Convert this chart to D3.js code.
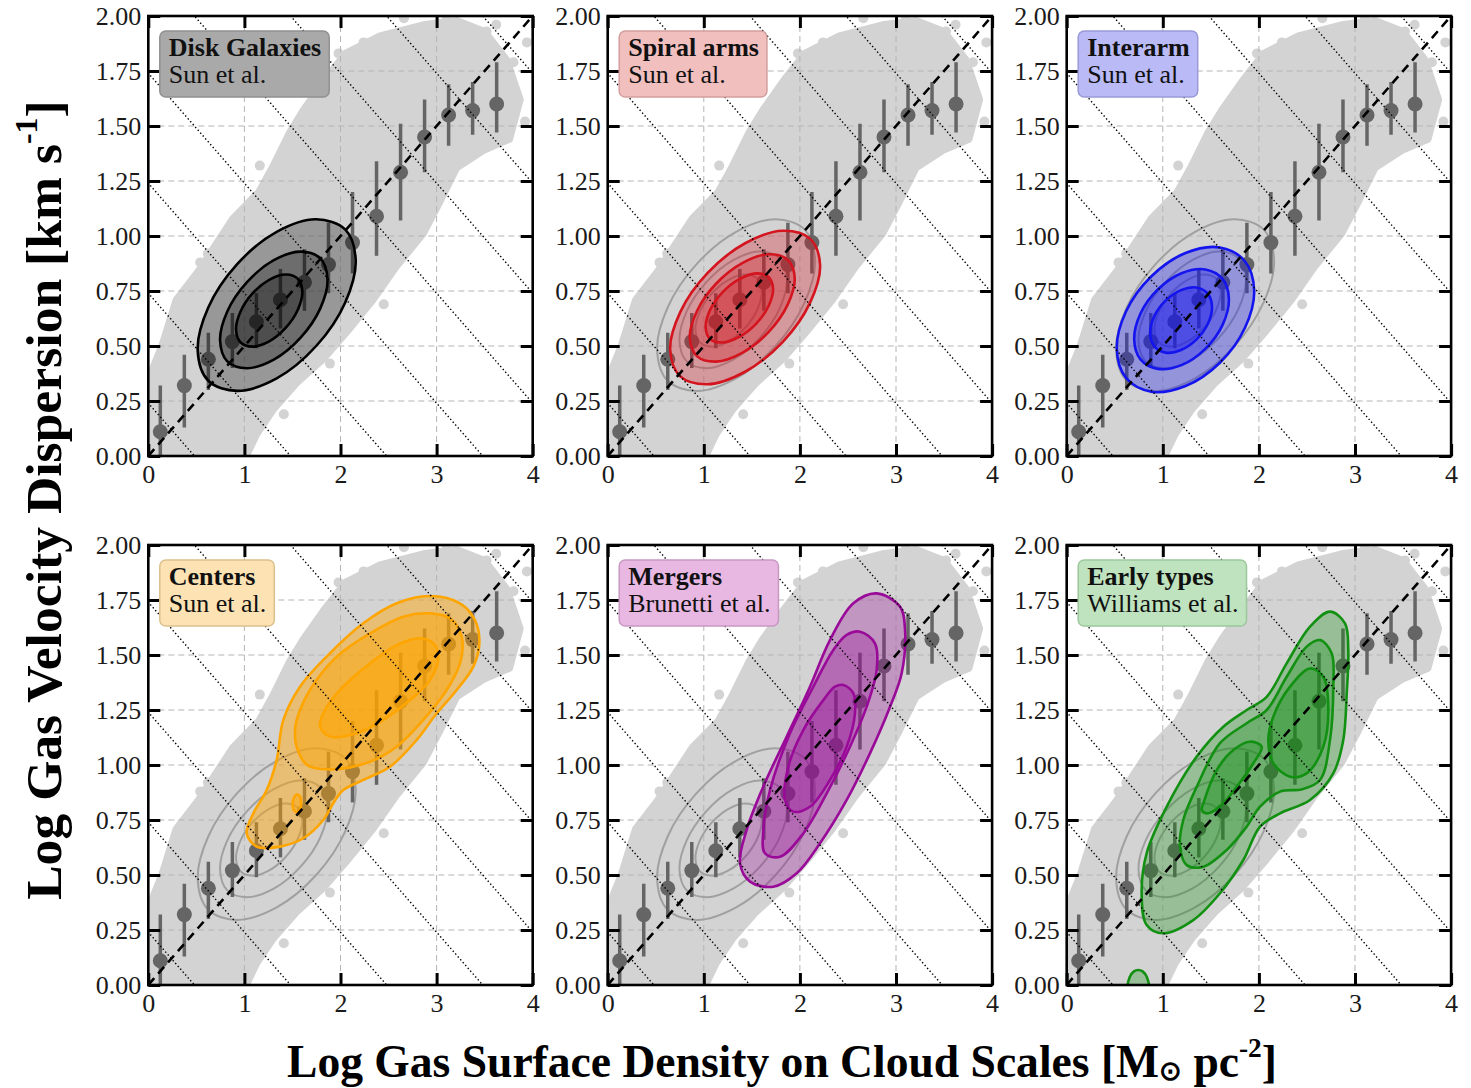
<!DOCTYPE html>
<html>
<head>
<meta charset="utf-8">
<script src="https://cdn.jsdelivr.net/npm/d3@7"></script>
<style>
  body { margin: 0; background: #fff; }
  svg { display: block; }
  text { font-family: "Liberation Serif", "Times New Roman", serif; }
</style>
</head>
<body>
<script>
// binned medians of the disk-galaxy sample, repeated in every panel
var binX   = [0.125, 0.375, 0.625, 0.875, 1.125, 1.375, 1.625, 1.875, 2.125, 2.375, 2.625, 2.875, 3.125, 3.375, 3.625];
var binMed = [0.11, 0.32, 0.44, 0.52, 0.61, 0.71, 0.79, 0.87, 0.97, 1.09, 1.29, 1.45, 1.55, 1.57, 1.60];
var binLo  = [0.00, 0.13, 0.30, 0.40, 0.49, 0.58, 0.66, 0.74, 0.83, 0.91, 1.07, 1.29, 1.41, 1.46, 1.47];
var binHi  = [0.32, 0.46, 0.56, 0.65, 0.74, 0.85, 0.94, 1.06, 1.20, 1.34, 1.51, 1.62, 1.69, 1.70, 1.79];

var xTicks = [0, 1, 2, 3, 4];
var xTickLabels = ["0", "1", "2", "3", "4"];
var yTicks = [0, 0.25, 0.5, 0.75, 1, 1.25, 1.5, 1.75, 2];
var yTickLabels = ["0.00", "0.25", "0.50", "0.75", "1.00", "1.25", "1.50", "1.75", "2.00"];

// constant-pressure lines (slope -1/2), y-intercepts
var pressureIntercepts = [0.24, 0.74, 1.24, 1.74, 2.24, 2.74, 3.24, 3.74];

// outline of the grey point cloud and a few loose points
var cloudHull = [[0,0],[0,0.35],[0.14,0.50],[0.29,0.71],[0.52,0.84],[0.88,1.08],[1.15,1.20],[1.30,1.32],[1.47,1.47],
  [1.61,1.57],[1.82,1.70],[2.05,1.83],[2.41,1.91],[2.86,1.96],[3.21,1.98],[3.50,1.93],[3.73,1.80],[3.87,1.62],
  [3.76,1.44],[3.49,1.39],[3.21,1.31],[3.04,1.16],[2.86,1.01],[2.58,0.86],[2.34,0.71],[2.06,0.56],[1.82,0.44],
  [1.54,0.33],[1.30,0.21],[1.13,0.10],[1.02,0]];
var cloudDots = [[2.24,1.88],[2.38,1.81],[1.16,1.32],[0.54,0.88],[1.41,0.19],[1.89,0.42],[2.45,0.69],[3.00,1.18],
  [3.94,1.88],[3.80,1.79],[3.52,1.93],[3.69,1.50],[2.66,1.99],[3.10,2.00],[3.62,1.96],[1.98,1.83],[0.62,0.92],[3.92,1.52]];

// density contours (outer, middle, inner)
var diskOuter = [[2.158,0.891],[2.048,1.030],[1.747,1.076],[1.336,1.019],[0.925,0.872],[0.624,0.675],[0.514,0.481],[0.624,0.342],[0.925,0.296],[1.336,0.353],[1.747,0.500],[2.048,0.697]];
var diskMiddle = [[1.865,0.803],[1.790,0.898],[1.585,0.929],[1.306,0.890],[1.027,0.790],[0.822,0.657],[0.747,0.525],[0.822,0.430],[1.027,0.399],[1.306,0.438],[1.585,0.538],[1.790,0.671]];
var diskInner = [[1.603,0.747],[1.557,0.805],[1.431,0.825],[1.258,0.801],[1.085,0.739],[0.959,0.656],[0.913,0.575],[0.959,0.517],[1.085,0.497],[1.258,0.521],[1.431,0.583],[1.557,0.666]];

var spiralOuter = [[2.21,0.868],[2.105,0.988],[1.82,1.024],[1.43,0.967],[1.04,0.832],[0.755,0.654],[0.65,0.483],[0.755,0.362],[1.04,0.326],[1.43,0.383],[1.82,0.518],[2.105,0.696]];
var spiralMiddle = [[1.946,0.808],[1.873,0.892],[1.673,0.917],[1.40,0.877],[1.127,0.783],[0.928,0.658],[0.854,0.538],[0.928,0.454],[1.127,0.429],[1.40,0.469],[1.673,0.563],[1.873,0.688]];
var spiralInner = [[1.721,0.760],[1.674,0.814],[1.546,0.830],[1.37,0.804],[1.194,0.744],[1.066,0.664],[1.019,0.586],[1.066,0.532],[1.194,0.516],[1.37,0.542],[1.546,0.602],[1.674,0.682]];

var interarmOuter = [[1.951,0.752],[1.855,0.885],[1.594,0.948],[1.236,0.923],[0.879,0.816],[0.617,0.657],[0.521,0.488],[0.617,0.355],[0.879,0.292],[1.236,0.318],[1.594,0.424],[1.855,0.583]];
var interarmMiddle = [[1.688,0.713],[1.622,0.805],[1.442,0.848],[1.195,0.831],[0.948,0.757],[0.768,0.648],[0.702,0.531],[0.768,0.439],[0.948,0.396],[1.195,0.413],[1.442,0.487],[1.622,0.596]];
var interarmInner = [[1.512,0.677],[1.469,0.737],[1.351,0.766],[1.19,0.754],[1.029,0.706],[0.911,0.635],[0.868,0.559],[0.911,0.499],[1.029,0.470],[1.19,0.482],[1.351,0.530],[1.469,0.601]];

var centersOuter = [[2.931,1.768],[3.243,1.735],[3.399,1.659],[3.445,1.553],[3.382,1.447],[3.209,1.341],[3.001,1.235],[2.793,1.114],[2.515,0.992],[2.237,0.932],[2.029,0.886],[1.925,0.826],[1.821,0.75],[1.613,0.667],[1.370,0.629],[1.128,0.629],[1.024,0.690],[1.093,0.780],[1.232,0.886],[1.336,1.023],[1.405,1.205],[1.579,1.356],[1.891,1.508],[2.237,1.644],[2.585,1.735]];
var centersMiddle = [[2.931,1.689],[3.139,1.667],[3.261,1.583],[3.243,1.462],[3.105,1.341],[2.862,1.205],[2.585,1.083],[2.307,1.015],[1.891,0.980],[1.65,1.00],[1.544,1.083],[1.526,1.150],[1.544,1.205],[1.682,1.341],[1.960,1.492],[2.307,1.598],[2.653,1.674]];
var centersBlob = [[1.59,0.83],[1.575,0.86],[1.54,0.865],[1.505,0.835],[1.515,0.795],[1.55,0.785],[1.58,0.80]];
var centersInner = [[2.827,1.576],[2.966,1.553],[3.018,1.492],[2.931,1.386],[2.723,1.295],[2.446,1.205],[2.168,1.144],[1.891,1.129],[1.787,1.174],[1.821,1.235],[1.995,1.341],[2.307,1.462],[2.585,1.545]];

var mergersOuter = [[2.799,1.780],[3.042,1.720],[3.094,1.614],[3.059,1.417],[2.938,1.265],[2.729,1.053],[2.487,0.841],[2.209,0.644],[1.967,0.508],[1.723,0.447],[1.481,0.470],[1.377,0.553],[1.446,0.705],[1.619,0.902],[1.863,1.129],[2.105,1.356],[2.313,1.568],[2.556,1.735]];
var mergersMiddle = [[2.625,1.606],[2.781,1.553],[2.799,1.432],[2.695,1.265],[2.521,1.083],[2.279,0.871],[2.035,0.689],[1.793,0.583],[1.637,0.598],[1.619,0.705],[1.689,0.886],[1.897,1.144],[2.140,1.356],[2.348,1.523],[2.487,1.591]];
var mergersInner = [[2.452,1.364],[2.556,1.326],[2.573,1.235],[2.487,1.083],[2.313,0.932],[2.105,0.810],[1.931,0.788],[1.845,0.841],[1.879,0.992],[2.035,1.159],[2.244,1.295],[2.365,1.356]];

var earlyOuter = [[2.740,1.697],[2.896,1.644],[2.930,1.523],[2.914,1.326],[2.878,1.114],[2.774,0.962],[2.532,0.841],[2.220,0.780],[2.012,0.720],[1.838,0.568],[1.595,0.417],[1.317,0.295],[1.005,0.235],[0.832,0.273],[0.780,0.417],[0.832,0.599],[1.041,0.811],[1.353,1.038],[1.630,1.174],[1.873,1.250],[2.081,1.310],[2.289,1.462],[2.532,1.629]];
var earlyBlob = [[0.64,-0.03],[0.655,0.035],[0.70,0.062],[0.745,0.068],[0.79,0.062],[0.835,0.035],[0.85,-0.03],[0.745,-0.06]];
var earlyMiddle = [[2.636,1.568],[2.757,1.508],[2.774,1.356],[2.740,1.114],[2.636,0.932],[2.45,0.89],[2.220,0.879],[2.012,0.811],[1.873,0.720],[1.665,0.614],[1.422,0.538],[1.249,0.545],[1.179,0.629],[1.213,0.750],[1.353,0.901],[1.595,1.099],[1.873,1.190],[2.081,1.250],[2.289,1.401],[2.497,1.538]];
var earlyInnerA = [[1.422,0.826],[1.561,0.977],[1.734,1.068],[1.907,1.106],[2.029,1.083],[1.942,1.008],[1.769,0.901],[1.595,0.811],[1.457,0.780],[1.405,0.795]];
var earlyInnerB = [[2.532,1.439],[2.670,1.401],[2.722,1.265],[2.670,1.083],[2.497,0.962],[2.324,0.947],[2.150,1.008],[2.098,1.114],[2.150,1.220],[2.324,1.356]];

var panelTitles = ["Disk Galaxies", "Spiral arms", "Interarm", "Centers", "Mergers", "Early types"];
var panelRefs = ["Sun et al.", "Sun et al.", "Sun et al.", "Sun et al.", "Brunetti et al.", "Williams et al."];
var panelLevels = [
  [[diskOuter], [diskMiddle], [diskInner]],
  [[spiralOuter], [spiralMiddle], [spiralInner]],
  [[interarmOuter], [interarmMiddle], [interarmInner]],
  [[centersOuter], [centersMiddle, centersBlob], [centersInner]],
  [[mergersOuter], [mergersMiddle], [mergersInner]],
  [[earlyOuter, earlyBlob], [earlyMiddle], [earlyInnerA, earlyInnerB]]
];

// styles
var lineColors = ["#000000", "#d4141e", "#1414ee", "#ffa500", "#990a99", "#129012"];
var fillAlpha  = [0.28, 0.30, 0.33, 0.45, 0.30, 0.30];
var boxFill = ["#a9a9a9", "#f2bfbf", "#babaf7", "#fde3b3", "#e8b8e3", "#bfe3bf"];
var boxEdge = ["#909090", "#d39e9e", "#9a9ad8", "#dcc08c", "#c898c3", "#9cc89c"];

var W = 384.4, H = 440;
var cols = [148.3, 607.7, 1066.7], rows = [16, 545];

var svg = d3.select("body").append("svg").attr("width", 1471).attr("height", 1088);
svg.append("rect").attr("width", 1471).attr("height", 1088).attr("fill", "#fff");

var x = d3.scaleLinear().domain([0, 4]).range([0, W]);
var y = d3.scaleLinear().domain([0, 2]).range([H, 0]);
var line = d3.line().x(function(d) { return x(d[0]); }).y(function(d) { return y(d[1]); });
var hull = d3.line().x(function(d) { return x(d[0]); }).y(function(d) { return y(d[1]); })
  .curve(d3.curveLinearClosed);
var smooth = d3.line().x(function(d) { return x(d[0]); }).y(function(d) { return y(d[1]); })
  .curve(d3.curveCatmullRomClosed.alpha(0.5));

panelTitles.forEach(function(title, i) {
  var g = svg.append("g")
    .attr("transform", "translate(" + cols[i % 3] + "," + rows[Math.floor(i / 3)] + ")");
  g.append("clipPath").attr("id", "clip" + i)
    .append("rect").attr("width", W).attr("height", H);
  var plot = g.append("g").attr("clip-path", "url(#clip" + i + ")");

  // grey cloud
  plot.append("path")
    .attr("d", hull(cloudHull))
    .attr("fill", "#d3d3d3").attr("stroke", "#d3d3d3")
    .attr("stroke-width", 7).attr("stroke-linejoin", "round");
  plot.selectAll(".dot").data(cloudDots).enter().append("circle")
    .attr("cx", function(d) { return x(d[0]); })
    .attr("cy", function(d) { return y(d[1]); })
    .attr("r", 5).attr("fill", "#d3d3d3");

  // grid
  plot.selectAll(".vgrid").data(xTicks.slice(1, -1)).enter().append("line")
    .attr("x1", function(d) { return x(d); }).attr("x2", function(d) { return x(d); })
    .attr("y1", 0).attr("y2", H)
    .attr("stroke", "#b4b4b4").attr("stroke-width", 1).attr("stroke-dasharray", "6,4");
  plot.selectAll(".hgrid").data(yTicks.slice(1, -1)).enter().append("line")
    .attr("y1", function(d) { return y(d); }).attr("y2", function(d) { return y(d); })
    .attr("x1", 0).attr("x2", W)
    .attr("stroke", "#b4b4b4").attr("stroke-width", 1).attr("stroke-dasharray", "6,4");

  // disk contours as grey reference in the other panels
  if (i > 0) {
    panelLevels[0].forEach(function(level) {
      plot.append("path").attr("d", smooth(level[0]))
        .attr("fill", "none").attr("stroke", "#a0a0a0").attr("stroke-width", 2);
    });
  }

  // binned medians with error bars
  plot.selectAll(".err").data(binX).enter().append("line")
    .attr("x1", function(d) { return x(d); }).attr("x2", function(d) { return x(d); })
    .attr("y1", function(d, j) { return y(binLo[j]); })
    .attr("y2", function(d, j) { return y(binHi[j]); })
    .attr("stroke", "#656565").attr("stroke-width", 3.5);
  plot.selectAll(".med").data(binX).enter().append("circle")
    .attr("cx", function(d) { return x(d); })
    .attr("cy", function(d, j) { return y(binMed[j]); })
    .attr("r", 7.5).attr("fill", "#656565");

  // filled contours
  panelLevels[i].forEach(function(level) {
    var d = level.map(function(ring) { return smooth(ring); }).join("");
    plot.append("path").attr("d", d)
      .attr("fill", lineColors[i]).attr("fill-opacity", fillAlpha[i])
      .attr("stroke", lineColors[i]).attr("stroke-width", 2.6);
  });

  // constant-pressure dotted lines
  pressureIntercepts.forEach(function(c) {
    plot.append("path").attr("d", line([[-0.5, c + 0.25], [4.5, c - 2.25]]))
      .attr("fill", "none").attr("stroke", "#000").attr("stroke-width", 1.4)
      .attr("stroke-dasharray", "1.4,2.4");
  });

  // one-to-one dashed line
  plot.append("path").attr("d", line([[0, 0], [4, 2]]))
    .attr("fill", "none").attr("stroke", "#000").attr("stroke-width", 2.6)
    .attr("stroke-dasharray", "9,6");

  // axes with inward ticks on all four sides
  var axes = [
    g.append("g").call(d3.axisLeft(y).tickValues(yTicks).tickSize(-12).tickPadding(7)
      .tickFormat(function(d, j) { return yTickLabels[j]; })),
    g.append("g").attr("transform", "translate(0," + H + ")")
      .call(d3.axisBottom(x).tickValues(xTicks).tickSize(-12).tickPadding(9)
      .tickFormat(function(d, j) { return xTickLabels[j]; })),
    g.append("g").attr("transform", "translate(" + W + ",0)")
      .call(d3.axisRight(y).tickValues(yTicks).tickSize(-12).tickFormat("")),
    g.append("g").call(d3.axisTop(x).tickValues(xTicks).tickSize(-12).tickFormat(""))
  ];
  axes.forEach(function(a) {
    a.attr("font-size", 26).attr("font-family", "Liberation Serif, serif");
    a.select(".domain").remove();
    a.selectAll("line").attr("stroke", "#000").attr("stroke-width", 3);
    a.selectAll("text").attr("fill", "#1a1a1a");
  });

  g.append("rect").attr("width", W).attr("height", H)
    .attr("fill", "none").attr("stroke", "#000").attr("stroke-width", 2.6);

  // label box
  var box = g.append("g").attr("transform", "translate(11.5,15)");
  var rect = box.append("rect").attr("rx", 6).attr("ry", 6)
    .attr("fill", boxFill[i]).attr("stroke", boxEdge[i]).attr("stroke-width", 1.5);
  var t1 = box.append("text").attr("x", 9).attr("y", 25)
    .attr("font-size", 26).attr("font-weight", "bold").attr("fill", "#111").text(title);
  var t2 = box.append("text").attr("x", 9).attr("y", 52)
    .attr("font-size", 26).attr("fill", "#111").text(panelRefs[i]);
  var wText = Math.max(t1.node().getComputedTextLength(), t2.node().getComputedTextLength());
  rect.attr("width", wText + 17).attr("height", 66);
});

// axis titles
var yTitle = svg.append("text")
  .attr("transform", "translate(61,500) rotate(-90)")
  .attr("text-anchor", "middle").attr("font-weight", "bold").attr("font-size", 50).attr("fill", "#000");
yTitle.append("tspan").text("Log Gas Velocity Dispersion [km s");
yTitle.append("tspan").attr("font-size", "0.62em").attr("dy", "-0.75em").text("-1");
yTitle.append("tspan").attr("dy", "0.47em").text("]");
var yl = yTitle.node().getComputedTextLength();
yTitle.attr("font-size", 50 * 800 / yl);

var xTitle = svg.append("text")
  .attr("transform", "translate(782,1077)")
  .attr("text-anchor", "middle").attr("font-weight", "bold").attr("font-size", 42).attr("fill", "#000");
xTitle.append("tspan").text("Log Gas Surface Density on Cloud Scales [M");
xTitle.append("tspan").attr("font-size", "0.6em").attr("dy", "0.12em").text("\u2299");
xTitle.append("tspan").attr("dy", "-0.07em").text(" pc");
xTitle.append("tspan").attr("font-size", "0.6em").attr("dy", "-0.75em").text("-2");
xTitle.append("tspan").attr("dy", "0.45em").text("]");
var xl = xTitle.node().getComputedTextLength();
xTitle.attr("font-size", 42 * 990 / xl);
</script>
</body>
</html>
